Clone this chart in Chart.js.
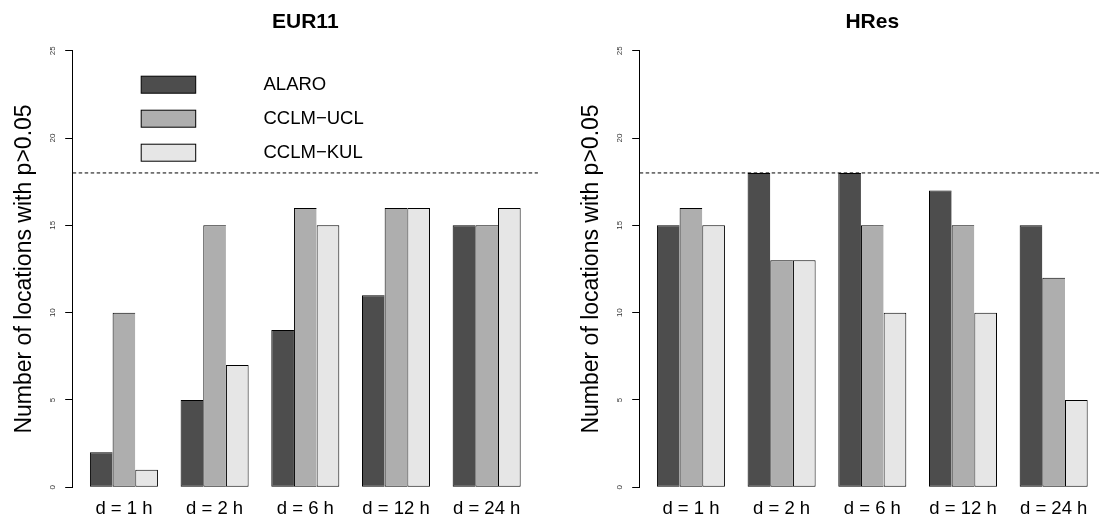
<!DOCTYPE html>
<html>
<head>
<meta charset="utf-8">
<script src="https://cdn.jsdelivr.net/npm/chart.js@4/dist/chart.umd.min.js"></script>
<style>
  html, body { margin: 0; padding: 0; background: #fff; overflow: hidden; }
  #wrap { position: relative; width: 1099px; height: 520px; overflow: hidden; background: #fff; }
  canvas { position: absolute; top: 0; }
  #eur { left: 0; }
  #hres { left: 567px; }
</style>
</head>
<body>
<div id="wrap">
  <canvas id="eur" width="550" height="520"></canvas>
  <canvas id="hres" width="550" height="520"></canvas>
</div>
<script>
// Aggregation windows and models
const categories = ['d = 1 h', 'd = 2 h', 'd = 6 h', 'd = 12 h', 'd = 24 h'];
const models = ['ALARO', 'CCLM\u2212UCL', 'CCLM\u2212KUL'];
const modelColors = ['#4D4D4D', '#AEAEAE', '#E6E6E6'];

// Number of locations with p > 0.05, EUR11 domain
const eurAlaro   = [2, 5, 9, 11, 15];
const eurCclmUcl = [10, 15, 16, 16, 15];
const eurCclmKul = [1, 7, 15, 16, 16];

// Number of locations with p > 0.05, high-resolution domain
const hresAlaro   = [15, 18, 18, 17, 15];
const hresCclmUcl = [16, 13, 15, 15, 12];
const hresCclmKul = [15, 13, 10, 10, 5];

const yTicks = [0, 5, 10, 15, 20, 25];
const threshold = 18;

// Barplot geometry in bar-width units: each group holds 3 bars and is preceded by a 1-unit gap
const nBars = models.length;
const groupStep = nBars + 1;
const groupCenters = categories.map((_, i) => 1 + i * groupStep + nBars / 2);
const xSpan = categories.length * groupStep;          // last bar edge
const xPad = 0.04 * (xSpan - 1);
const xMin = 1 - xPad, xMax = xSpan + xPad;

const FONT = '"Liberation Sans", Arial, Helvetica, sans-serif';
Chart.defaults.font.family = FONT;
Chart.defaults.color = '#000';

// dashed reference line across the plot region
const thresholdLine = {
  id: 'thresholdLine',
  afterDatasetsDraw(chart, args, opts) {
    const { ctx, chartArea } = chart;
    const y = chart.scales.y.getPixelForValue(opts.value);
    ctx.save();
    ctx.strokeStyle = '#000';
    ctx.lineWidth = 1;
    ctx.setLineDash([3.5, 2.5]);
    ctx.beginPath();
    ctx.moveTo(chartArea.left, y);
    ctx.lineTo(chartArea.right, y);
    ctx.stroke();
    ctx.restore();
  }
};

// legend with filled boxes inside the plot region
const boxLegend = {
  id: 'boxLegend',
  afterDraw(chart, args, opts) {
    if (!opts.show) return;
    const { ctx, chartArea } = chart;
    ctx.save();
    chart.data.datasets.forEach((ds, i) => {
      const x = chartArea.left + 68.5;
      const y = chartArea.top + 25.5 + i * 34;
      ctx.fillStyle = ds.backgroundColor;
      ctx.fillRect(x, y, 54.5, 17);
      ctx.strokeStyle = '#000';
      ctx.lineWidth = 1;
      ctx.strokeRect(x, y, 54.5, 17);
      ctx.fillStyle = '#000';
      ctx.font = '18.5px ' + FONT;
      ctx.textAlign = 'left';
      ctx.textBaseline = 'middle';
      ctx.fillText(ds.label, x + 122.3, y + 9);
    });
    ctx.restore();
  }
};

function makePanel(id, title, series, showLegend) {
  const datasets = series.map((values, i) => ({
    label: models[i],
    data: values,
    backgroundColor: modelColors[i],
    borderColor: '#000',
    borderWidth: { top: 1, bottom: 1, left: 1, right: i === nBars - 1 ? 1 : 0 },
    borderSkipped: false,
    categoryPercentage: nBars / groupStep,
    barPercentage: 1
  }));

  return new Chart(document.getElementById(id), {
    type: 'bar',
    data: { labels: groupCenters, datasets },
    plugins: [thresholdLine, boxLegend],
    options: {
      responsive: false,
      animation: false,
      events: [],
      layout: { padding: { left: 0, right: 12.1, top: 0, bottom: 0 } },
      plugins: {
        legend: { display: false },
        tooltip: { enabled: false },
        title: {
          display: true,
          text: title,
          fullSize: false,
          color: '#000',
          font: { size: 21, weight: 'bold' },
          padding: { top: 10, bottom: 15.5 }
        },
        thresholdLine: { value: threshold },
        boxLegend: { show: showLegend }
      },
      scales: {
        x: {
          type: 'linear',
          min: xMin,
          max: xMax,
          bounds: 'data',
          offset: false,
          grid: { display: false, drawTicks: false },
          border: { display: false },
          afterBuildTicks(scale) { scale.ticks = groupCenters.map(v => ({ value: v })); },
          afterFit(scale) { scale.height = 32.7; },
          ticks: {
            autoSkip: false,
            maxRotation: 0,
            padding: 11,
            color: '#000',
            font: { size: 18.5 },
            callback: (value, index) => categories[index]
          }
        },
        y: {
          min: yTicks[0],
          max: yTicks[yTicks.length - 1],
          afterBuildTicks(scale) { scale.ticks = yTicks.map(v => ({ value: v })); },
          afterFit(scale) { scale.width = 72.7; },
          grid: { display: true, drawOnChartArea: false, drawTicks: true, tickLength: 7.5, color: '#000', lineWidth: 1 },
          border: { display: true, color: '#000', width: 1 },
          ticks: {
            minRotation: 90,
            maxRotation: 90,
            crossAlign: 'center',
            padding: 7.5,
            color: '#333',
            font: { size: 8 }
          },
          title: {
            display: true,
            text: 'Number of locations with p>0.05',
            color: '#000',
            font: { size: 23 },
            padding: { top: 11.2, bottom: 0 }
          }
        }
      }
    }
  });
}

makePanel('eur', 'EUR11', [eurAlaro, eurCclmUcl, eurCclmKul], true);
makePanel('hres', 'HRes', [hresAlaro, hresCclmUcl, hresCclmKul], false);
</script>
</body>
</html>
